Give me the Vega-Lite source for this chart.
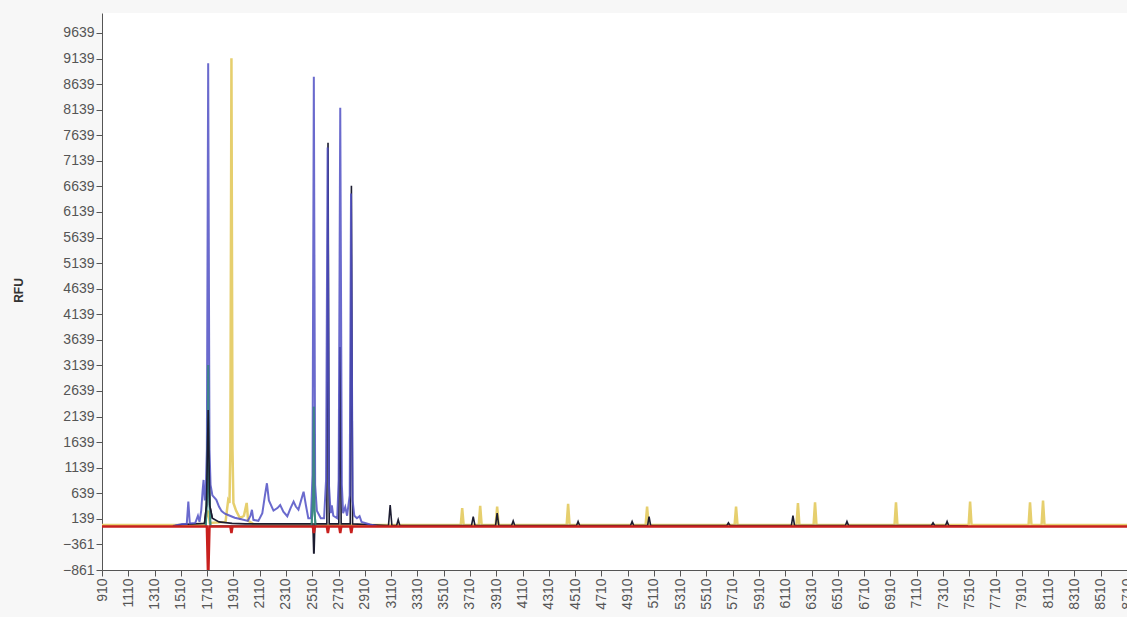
{
  "$schema": "https://vega.github.io/schema/vega-lite/v6.json",
  "autosize": {"type": "none"},
  "padding": {"left": 102, "top": 13, "right": 0, "bottom": 47},
  "width": 1025,
  "height": 557,
  "background": "#f7f7f7",
  "config": {
    "view": {"fill": "#ffffff", "stroke": null},
    "axis": {"labelFont": "Liberation Sans", "labelFontSize": 14, "labelColor": "#555555", "domainColor": "#555555", "tickColor": "#555555", "tickSize": 6, "labelPadding": 2, "grid": false, "titleFont": "Liberation Sans"}
  },
  "datasets": {
    "trace": [
      {"s":"yellow","x":910,"y":20},{"s":"yellow","x":1690,"y":20},{"s":"yellow","x":1705,"y":200},{"s":"yellow","x":1718,"y":300},{"s":"yellow","x":1730,"y":60},{"s":"yellow","x":1850,"y":80},{"s":"yellow","x":1870,"y":500},{"s":"yellow","x":1880,"y":450},{"s":"yellow","x":1887,"y":1500},{"s":"yellow","x":1895,"y":9144},{"s":"yellow","x":1903,"y":1500},{"s":"yellow","x":1910,"y":450},{"s":"yellow","x":1930,"y":300},{"s":"yellow","x":1960,"y":150},{"s":"yellow","x":1990,"y":200},{"s":"yellow","x":2011,"y":450},{"s":"yellow","x":2022,"y":100},{"s":"yellow","x":2060,"y":40},{"s":"yellow","x":2100,"y":20},
      {"s":"yellow","x":3640,"y":20},{"s":"yellow","x":3651,"y":347},{"s":"yellow","x":3662,"y":20},{"s":"yellow","x":3777,"y":20},{"s":"yellow","x":3788,"y":392},{"s":"yellow","x":3799,"y":20},{"s":"yellow","x":3906,"y":20},{"s":"yellow","x":3917,"y":378},{"s":"yellow","x":3928,"y":20},{"s":"yellow","x":4446,"y":20},{"s":"yellow","x":4457,"y":431},{"s":"yellow","x":4468,"y":20},{"s":"yellow","x":5047,"y":20},{"s":"yellow","x":5058,"y":378},{"s":"yellow","x":5069,"y":20},{"s":"yellow","x":5724,"y":20},{"s":"yellow","x":5735,"y":378},{"s":"yellow","x":5746,"y":20},{"s":"yellow","x":6195,"y":20},{"s":"yellow","x":6206,"y":445},{"s":"yellow","x":6217,"y":20},{"s":"yellow","x":6325,"y":20},{"s":"yellow","x":6336,"y":464},{"s":"yellow","x":6347,"y":20},{"s":"yellow","x":6941,"y":20},{"s":"yellow","x":6952,"y":464},{"s":"yellow","x":6963,"y":20},{"s":"yellow","x":7505,"y":20},{"s":"yellow","x":7516,"y":477},{"s":"yellow","x":7527,"y":20},{"s":"yellow","x":7961,"y":20},{"s":"yellow","x":7972,"y":464},{"s":"yellow","x":7983,"y":20},{"s":"yellow","x":8060,"y":20},{"s":"yellow","x":8071,"y":496},{"s":"yellow","x":8082,"y":20},{"s":"yellow","x":8710,"y":20},

      {"s":"blue","x":1450,"y":0},{"s":"blue","x":1520,"y":40},{"s":"blue","x":1555,"y":40},{"s":"blue","x":1567,"y":476},{"s":"blue","x":1578,"y":50},{"s":"blue","x":1620,"y":60},{"s":"blue","x":1640,"y":200},{"s":"blue","x":1652,"y":80},{"s":"blue","x":1665,"y":300},{"s":"blue","x":1676,"y":700},{"s":"blue","x":1683,"y":900},{"s":"blue","x":1692,"y":500},{"s":"blue","x":1700,"y":700},{"s":"blue","x":1708,"y":1500},{"s":"blue","x":1718,"y":9047},{"s":"blue","x":1728,"y":1500},{"s":"blue","x":1736,"y":800},{"s":"blue","x":1750,"y":600},{"s":"blue","x":1780,"y":510},{"s":"blue","x":1800,"y":380},{"s":"blue","x":1820,"y":290},{"s":"blue","x":1845,"y":240},{"s":"blue","x":1870,"y":215},{"s":"blue","x":1920,"y":160},{"s":"blue","x":1970,"y":130},{"s":"blue","x":2020,"y":100},{"s":"blue","x":2040,"y":200},{"s":"blue","x":2051,"y":315},{"s":"blue","x":2062,"y":120},{"s":"blue","x":2100,"y":100},{"s":"blue","x":2130,"y":250},{"s":"blue","x":2150,"y":600},{"s":"blue","x":2165,"y":835},{"s":"blue","x":2180,"y":500},{"s":"blue","x":2215,"y":300},{"s":"blue","x":2245,"y":350},{"s":"blue","x":2266,"y":410},{"s":"blue","x":2290,"y":280},{"s":"blue","x":2320,"y":190},{"s":"blue","x":2345,"y":350},{"s":"blue","x":2368,"y":475},{"s":"blue","x":2385,"y":380},{"s":"blue","x":2405,"y":320},{"s":"blue","x":2425,"y":500},{"s":"blue","x":2444,"y":670},{"s":"blue","x":2462,"y":400},{"s":"blue","x":2480,"y":150},{"s":"blue","x":2500,"y":150},{"s":"blue","x":2512,"y":1000},{"s":"blue","x":2522,"y":8785},{"s":"blue","x":2532,"y":800},{"s":"blue","x":2545,"y":300},{"s":"blue","x":2575,"y":150},{"s":"blue","x":2600,"y":150},{"s":"blue","x":2615,"y":900},{"s":"blue","x":2627,"y":7400},{"s":"blue","x":2637,"y":800},{"s":"blue","x":2650,"y":250},{"s":"blue","x":2659,"y":400},{"s":"blue","x":2670,"y":200},{"s":"blue","x":2700,"y":150},{"s":"blue","x":2711,"y":900},{"s":"blue","x":2723,"y":8179},{"s":"blue","x":2735,"y":800},{"s":"blue","x":2745,"y":250},{"s":"blue","x":2761,"y":370},{"s":"blue","x":2775,"y":200},{"s":"blue","x":2795,"y":600},{"s":"blue","x":2805,"y":6500},{"s":"blue","x":2817,"y":500},{"s":"blue","x":2830,"y":200},{"s":"blue","x":2850,"y":150},{"s":"blue","x":2870,"y":190},{"s":"blue","x":2885,"y":80},{"s":"blue","x":2950,"y":30},{"s":"blue","x":3000,"y":0},

      {"s":"green","x":1700,"y":0},{"s":"green","x":1712,"y":800},{"s":"green","x":1718,"y":3148},{"s":"green","x":1724,"y":800},{"s":"green","x":1735,"y":0},{"s":"green","x":2505,"y":0},{"s":"green","x":2516,"y":600},{"s":"green","x":2522,"y":2330},{"s":"green","x":2527,"y":300},{"s":"green","x":2535,"y":0},

      {"s":"black","x":1450,"y":0},{"s":"black","x":1520,"y":30},{"s":"black","x":1690,"y":50},{"s":"black","x":1705,"y":400},{"s":"black","x":1718,"y":2268},{"s":"black","x":1730,"y":400},{"s":"black","x":1750,"y":150},{"s":"black","x":1800,"y":80},{"s":"black","x":1900,"y":50},{"s":"black","x":2000,"y":40},{"s":"black","x":2515,"y":40},{"s":"black","x":2521,"y":-527},{"s":"black","x":2524,"y":-527},{"s":"black","x":2530,"y":40},{"s":"black","x":2621,"y":40},{"s":"black","x":2630,"y":7494},{"s":"black","x":2639,"y":40},{"s":"black","x":2712,"y":40},{"s":"black","x":2721,"y":3500},{"s":"black","x":2730,"y":40},{"s":"black","x":2799,"y":40},{"s":"black","x":2808,"y":6654},{"s":"black","x":2817,"y":40},{"s":"black","x":3000,"y":20},{"s":"black","x":3090,"y":10},{"s":"black","x":3103,"y":411},{"s":"black","x":3116,"y":10},{"s":"black","x":3152,"y":10},{"s":"black","x":3164,"y":120},{"s":"black","x":3176,"y":10},{"s":"black","x":3722,"y":10},{"s":"black","x":3735,"y":183},{"s":"black","x":3748,"y":10},{"s":"black","x":3905,"y":10},{"s":"black","x":3917,"y":250},{"s":"black","x":3929,"y":10},{"s":"black","x":4027,"y":10},{"s":"black","x":4039,"y":100},{"s":"black","x":4051,"y":10},{"s":"black","x":4521,"y":10},{"s":"black","x":4533,"y":90},{"s":"black","x":4545,"y":10},{"s":"black","x":4932,"y":10},{"s":"black","x":4944,"y":90},{"s":"black","x":4956,"y":10},{"s":"black","x":5062,"y":10},{"s":"black","x":5073,"y":183},{"s":"black","x":5085,"y":10},{"s":"black","x":5665,"y":10},{"s":"black","x":5677,"y":60},{"s":"black","x":5689,"y":10},{"s":"black","x":6156,"y":10},{"s":"black","x":6168,"y":200},{"s":"black","x":6180,"y":10},{"s":"black","x":6567,"y":10},{"s":"black","x":6579,"y":90},{"s":"black","x":6591,"y":10},{"s":"black","x":7222,"y":10},{"s":"black","x":7234,"y":60},{"s":"black","x":7246,"y":10},{"s":"black","x":7329,"y":10},{"s":"black","x":7341,"y":90},{"s":"black","x":7353,"y":10},{"s":"black","x":7500,"y":0},

      {"s":"red","x":910,"y":-10},{"s":"red","x":1708,"y":-10},{"s":"red","x":1716,"y":-861},{"s":"red","x":1720,"y":-861},{"s":"red","x":1728,"y":-10},{"s":"red","x":1887,"y":-10},{"s":"red","x":1895,"y":-140},{"s":"red","x":1903,"y":-10},{"s":"red","x":2514,"y":-10},{"s":"red","x":2522,"y":-140},{"s":"red","x":2530,"y":-10},{"s":"red","x":2621,"y":-10},{"s":"red","x":2629,"y":-140},{"s":"red","x":2637,"y":-10},{"s":"red","x":2715,"y":-10},{"s":"red","x":2723,"y":-140},{"s":"red","x":2731,"y":-10},{"s":"red","x":2799,"y":-10},{"s":"red","x":2807,"y":-140},{"s":"red","x":2815,"y":-10},{"s":"red","x":8710,"y":-10}
    ]
  },
  "data": {"name": "trace"},
  "encoding": {
    "x": {"field": "x", "type": "quantitative", "scale": {"domain": [910, 8710], "nice": false, "zero": false},
      "axis": {"title": null, "values": [910,1110,1310,1510,1710,1910,2110,2310,2510,2710,2910,3110,3310,3510,3710,3910,4110,4310,4510,4710,4910,5110,5310,5510,5710,5910,6110,6310,6510,6710,6910,7110,7310,7510,7710,7910,8110,8310,8510,8710],
        "labelAngle": 270, "labelAlign": "right", "labelBaseline": "middle", "labelOverlap": false, "labelFlush": false, "format": "d"}},
    "y": {"field": "y", "type": "quantitative", "scale": {"domain": [-861, 10030], "nice": false, "zero": false},
      "axis": {"title": "RFU", "values": [-861,-361,139,639,1139,1639,2139,2639,3139,3639,4139,4639,5139,5639,6139,6639,7139,7639,8139,8639,9139,9639],
        "labelOverlap": false, "labelFlush": false, "format": "d", "titleFontSize": 12, "titleFontWeight": "bold", "titleColor": "#333333", "titleX": -84, "titleY": 277, "titleAngle": 270, "titleAlign": "center", "titleBaseline": "middle"}}
  },
  "layer": [
    {"transform": [{"filter": "datum.s === 'yellow'"}], "mark": {"type": "line", "color": "#e6cf6e", "strokeWidth": 2.5, "clip": true}},
    {"transform": [{"filter": "datum.s === 'green'"}], "mark": {"type": "line", "color": "#3c8c80", "strokeWidth": 2, "clip": true}},
    {"transform": [{"filter": "datum.s === 'black'"}], "mark": {"type": "line", "color": "#1c1c30", "strokeWidth": 1.6, "clip": true}},
    {"transform": [{"filter": "datum.s === 'blue'"}], "mark": {"type": "line", "color": "#5050c4", "strokeWidth": 2, "opacity": 0.85, "clip": true}},
    {"transform": [{"filter": "datum.s === 'green'"}], "mark": {"type": "line", "color": "#3c8c80", "strokeWidth": 2, "opacity": 0.8, "clip": true}},
    {"transform": [{"filter": "datum.s === 'black' && datum.x > 1600 && datum.x < 1800"}], "mark": {"type": "line", "color": "#1c1c30", "strokeWidth": 1.6, "clip": true}},
    {"transform": [{"filter": "datum.s === 'red'"}], "mark": {"type": "line", "color": "#c8201e", "strokeWidth": 2.5, "clip": true}}
  ]
}
